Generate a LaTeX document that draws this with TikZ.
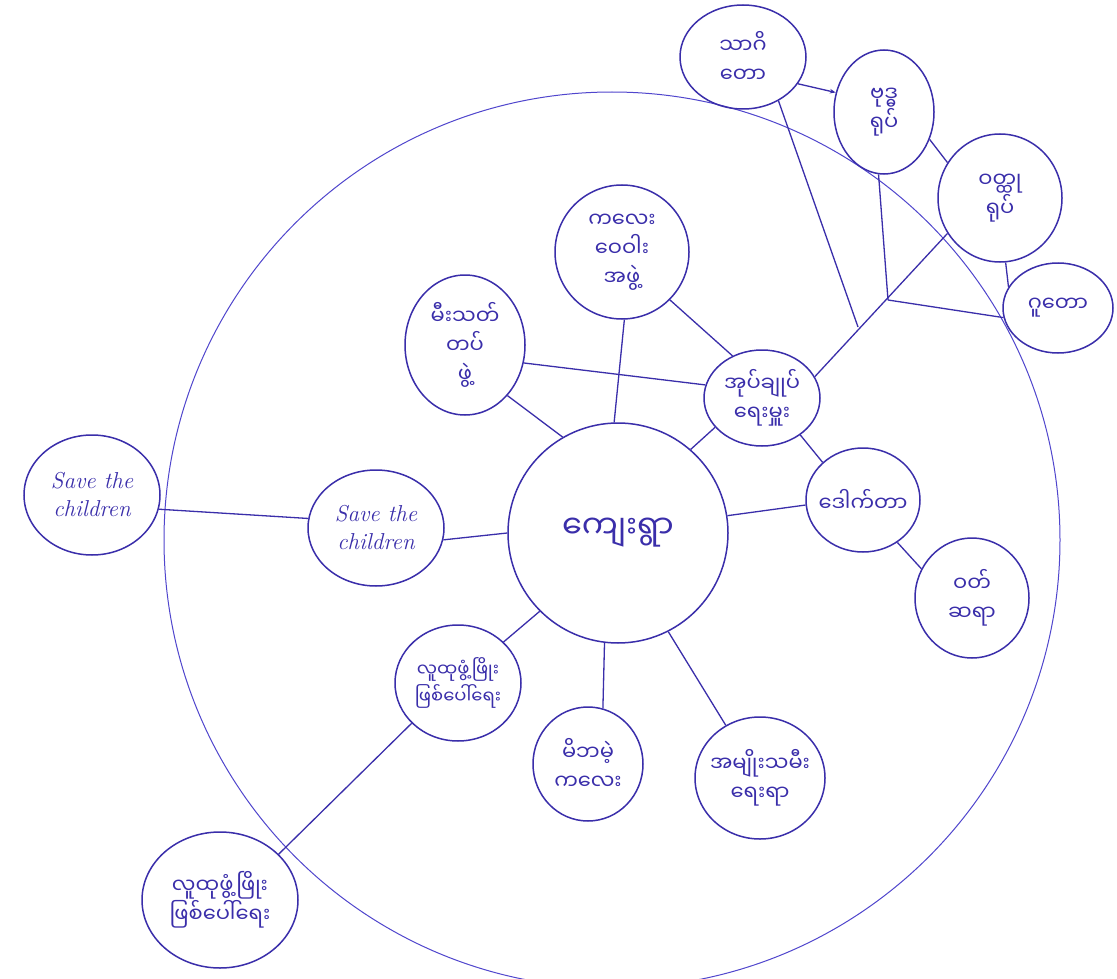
\documentclass[tikz,border=0pt]{standalone}
\usepackage{fontspec}
\usetikzlibrary{shapes.geometric,arrows.meta}
\newfontfamily\my[Script=Myanmar]{Noto Sans Myanmar UI}
\definecolor{ink}{RGB}{58,46,170}
\definecolor{ringc}{RGB}{80,70,205}
\begin{document}
\begin{tikzpicture}[x=1pt,y=-1pt,
  bub/.style={draw=ink,line width=1.5pt,ellipse,inner sep=-12pt,align=center,text=ink,font=\my\fontsize{21}{29}\selectfont},
  sm/.style={font=\my\fontsize{18}{27}\selectfont},
  con/.style={draw=ink,line width=1.3pt},
  lat/.style={font=\itshape\fontsize{23}{28}\selectfont}]
\useasboundingbox (0,0) rectangle (1117,979);
\fill[white] (0,0) rectangle (1117,979);
% big circle
\draw[draw=ringc,line width=1pt] (612,540) circle[radius=448];
% centre
\node[bub,circle,inner sep=0pt,minimum size=220pt,font=\my\fontsize{32}{36}\selectfont] (c) at (618,533) {ကျေးရွာ};
% nodes
\node[bub,minimum width=136pt,minimum height=120pt,lat] (so) at (92,495) {Save the\\children};
\node[bub,minimum width=136pt,minimum height=116pt,lat] (si) at (376,528) {Save the\\children};
\node[bub,minimum width=134pt,minimum height=134pt] (n5) at (622,252) {ကလေး\\ဝေဝါး\\အဖွဲ့};
\node[bub,minimum width=120pt,minimum height=140pt] (n6) at (465,345) {မီးသတ်\\တပ်\\ဖွဲ့};
\node[bub,minimum width=116pt,minimum height=96pt] (ad) at (762,398) {အုပ်ချုပ်\\ရေးမှူး};
\node[bub,minimum width=114pt,minimum height=104pt] (dr) at (863,500) {ဒေါက်တာ};
\node[bub,minimum width=114pt,minimum height=120pt] (n9) at (972,598) {ဝတ်\\ဆရာ};
\node[bub,minimum width=110pt,minimum height=114pt] (n10) at (588,764) {မိဘမဲ့\\ကလေး};
\node[bub,minimum width=130pt,minimum height=122pt] (n11) at (760,778) {အမျိုးသမီး\\ရေးရာ};
\node[bub,sm,minimum width=126pt,minimum height=116pt] (n12) at (458,683) {လူထုဖွံ့ဖြိုး\\ဖြစ်ပေါ်ရေး};
\node[bub,minimum width=156pt,minimum height=136pt] (n13) at (220,900) {လူထုဖွံ့ဖြိုး\\ဖြစ်ပေါ်ရေး};
\node[bub,minimum width=126pt,minimum height=104pt] (t1) at (743,57) {သာဂိ\\တော};
\node[bub,minimum width=100pt,minimum height=124pt] (t2) at (884,112) {ဗုဒ္ဓ\\ရုပ်};
\node[bub,minimum width=124pt,minimum height=128pt] (t3) at (1000,198) {ဝတ္ထု\\ရုပ်};
\node[bub,minimum width=110pt,minimum height=90pt] (t4) at (1058,308) {ဂူတော};
\coordinate (j1) at (858,327);
\coordinate (j2) at (888,300);
% connectors
\draw[con] (so.-12) -- (si.172);
\draw[con] (si.-10) -- (c.180);
\draw[con] (n6.-50) -- (c.120);
\draw[con] (n6.-17) -- (ad.167);
\draw[con] (n5.-88) -- (c.92);
\draw[con] (n5.-45) -- (ad.125);
\draw[con] (ad.212) -- (c.49);
\draw[con] (ad.-44) -- (dr.137);
\draw[con] (ad.22) -- (t3.214);
\draw[con] (c.9) -- (dr.185);
\draw[con] (dr.-51) -- (n9.150);
\draw[con] (c.-97) -- (n10.75);
\draw[con] (c.-63) -- (n11.123);
\draw[con] (c.225) -- (n12.42);
\draw[con] (n12.221) -- (n13.38);
\draw[con,-{Stealth[length=6pt]}] (t1.-26) -- (t2.158);
\draw[con] (t1.-51) -- (j1);
\draw[con] (t2.-95) -- (j2);
\draw[con] (j2) -- (t4.190);
\draw[con] (t2.-31) -- (t3.146);
\draw[con] (t3.-85) -- (t4.157);
\end{tikzpicture}
\end{document}
